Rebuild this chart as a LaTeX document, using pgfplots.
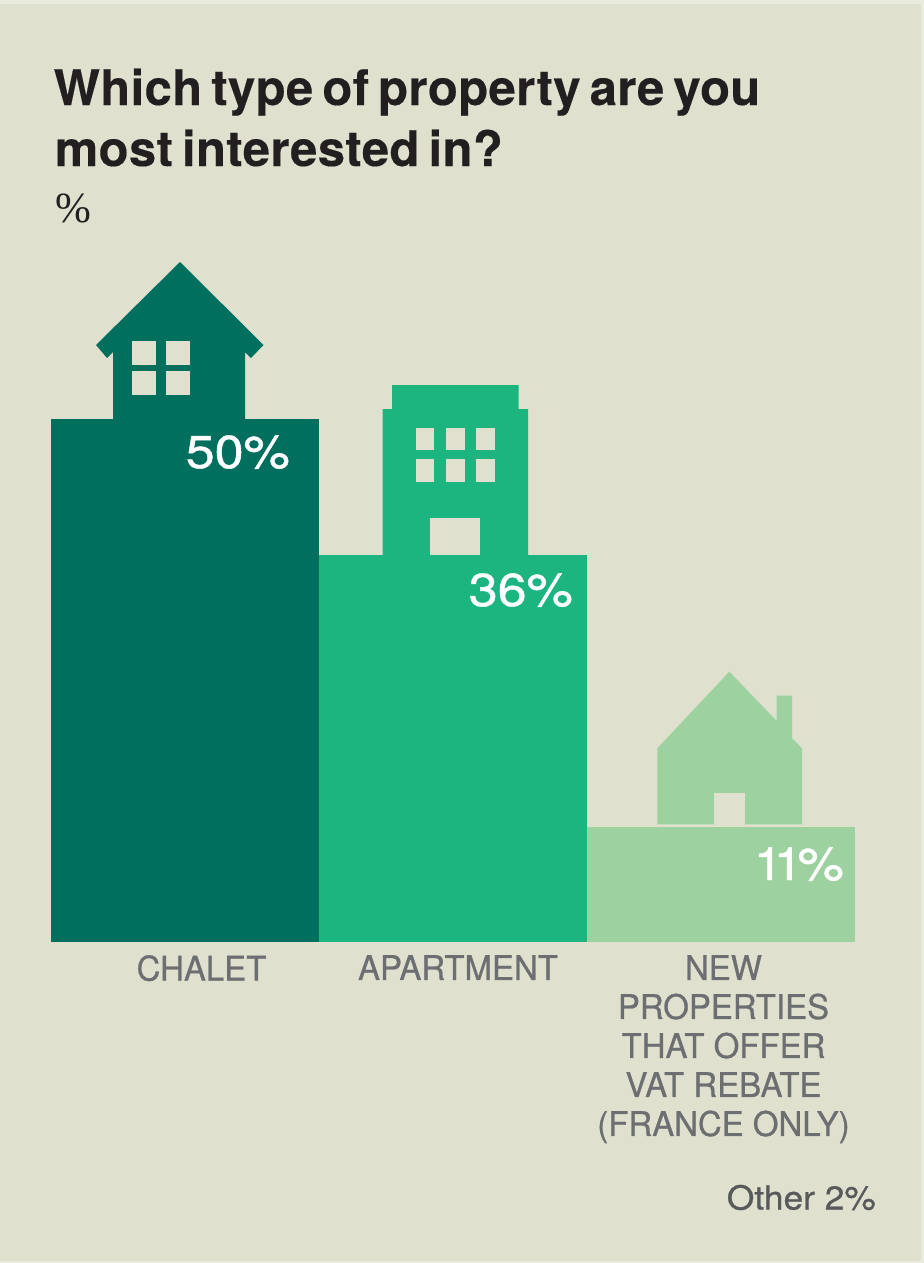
\documentclass[border=0pt]{standalone}
\usepackage{pgfplots}
\pgfplotsset{compat=1.18}
\usepackage{fontspec}
\setmainfont{TeX Gyre Heros}
\newfontfamily\seriffont{Liberation Serif}
\newfontfamily\valfont[FakeBold=1.0,FakeStretch=1.13]{TeX Gyre Heros}
\newfontfamily\labfont[FakeBold=0.7,FakeStretch=0.97]{TeX Gyre Heros}
\newfontfamily\othfont[FakeBold=0.7,FakeStretch=1.07]{TeX Gyre Heros}
\newfontfamily\titfont[LetterSpace=0.8,WordSpace=0.65,FakeBold=0.3]{TeX Gyre Heros Bold}
\definecolor{bgc}{HTML}{DFE1CE}
\definecolor{edgec}{HTML}{E9EBDC}
\definecolor{dark}{HTML}{016F5D}
\definecolor{mid}{HTML}{1CB57F}
\definecolor{light}{HTML}{9DD1A0}
\definecolor{titlec}{HTML}{231F20}
\definecolor{labelc}{HTML}{6D6E71}
\definecolor{otherc}{HTML}{58595B}
\newcommand{\fs}[2]{\fontsize{#1}{#2}\selectfont}
\begin{document}
\begin{tikzpicture}[x=1bp,y=1bp]
\fill[edgec] (0,0) rectangle (924,1263);
\fill[bgc] (0,2) rectangle (921,1259);
\begin{axis}[
  name=bars, at={(51bp,321bp)}, anchor=south west,
  scale only axis, width=804bp, height=941.4bp,
  xmin=-0.5, xmax=2.5, ymin=0, ymax=90,
  ybar, bar width=268bp, bar shift=0pt,
  axis line style={draw=none}, major tick length=0pt,
  ytick=\empty,
  xtick={0.0616,1.0187,2.0093},
  xticklabels={CHALET,APARTMENT,{NEW\\PROPERTIES\\THAT OFFER\\VAT REBATE\\(FRANCE ONLY)}},
  xticklabel style={align=center, anchor=north, inner sep=0pt, yshift=-13bp,
     text=labelc, font=\labfont\fs{34bp}{39bp}},
  clip=false,
]
\addplot[draw=none, fill=dark] coordinates {(0,50)};
\addplot[draw=none, fill=mid] coordinates {(1,37)};
\addplot[draw=none, fill=light] coordinates {(2,11)};
\end{axis}
\begin{axis}[
  at={(0bp,0bp)}, anchor=south west,
  scale only axis, width=924bp, height=1263bp,
  xmin=0, xmax=924, ymin=0, ymax=1263, y dir=reverse,
  hide axis, clip=false,
]
% chalet
\addplot[draw=none, fill=dark] coordinates {(180,262) (263.5,345) (251,358) (245,352) (245,420) (113,420) (113,352) (107,358) (96,345)} --cycle;
\addplot[draw=none, fill=bgc] coordinates {(132,341) (156,341) (156,365) (132,365)} --cycle;
\addplot[draw=none, fill=bgc] coordinates {(166,341) (190,341) (190,365) (166,365)} --cycle;
\addplot[draw=none, fill=bgc] coordinates {(132,371) (156,371) (156,395) (132,395)} --cycle;
\addplot[draw=none, fill=bgc] coordinates {(166,371) (190,371) (190,395) (166,395)} --cycle;
% apartment
\addplot[draw=none, fill=mid] coordinates {(392,385) (518.5,385) (518.5,409) (528,409) (528,556) (382.5,556) (382.5,409) (392,409)} --cycle;
\addplot[draw=none, fill=bgc] coordinates {(415.5,428) (434,428) (434,450) (415.5,450)} --cycle;
\addplot[draw=none, fill=bgc] coordinates {(446,428) (465,428) (465,450) (446,450)} --cycle;
\addplot[draw=none, fill=bgc] coordinates {(476,428) (495,428) (495,450) (476,450)} --cycle;
\addplot[draw=none, fill=bgc] coordinates {(415.5,459) (434,459) (434,482) (415.5,482)} --cycle;
\addplot[draw=none, fill=bgc] coordinates {(446,459) (465,459) (465,482) (446,482)} --cycle;
\addplot[draw=none, fill=bgc] coordinates {(476,459) (495,459) (495,482) (476,482)} --cycle;
\addplot[draw=none, fill=bgc] coordinates {(430,518) (480,518) (480,555) (430,555)} --cycle;
% new house
\addplot[draw=none, fill=light] coordinates {(729.3,671.7) (776.7,721) (776.7,695.7) (792,695.7) (792,738) (802,748.3) (802,824.3) (657.3,824.3) (657.3,748.3)} --cycle;
\addplot[draw=none, fill=bgc] coordinates {(713.7,793) (745.3,793) (745.3,827) (713.7,827)} --cycle;
% text
\node[anchor=base west, inner sep=0pt, text=titlec] at (axis cs:53.5,105) {\titfont\fs{49bp}{60bp}Which type of property are you};
\node[anchor=base west, inner sep=0pt, text=titlec] at (axis cs:54.5,166) {\titfont\fs{49bp}{60bp}most interested in?};
\node[anchor=base west, inner sep=0pt, text=titlec] at (axis cs:55.5,222.5) {\seriffont\fs{43bp}{48bp}\%};
\node[anchor=base east, inner sep=0pt, text=white] at (axis cs:290,468) {\valfont\fs{46bp}{50bp}50\%};
\node[anchor=base east, inner sep=0pt, text=white] at (axis cs:573,606) {\valfont\fs{46bp}{50bp}36\%};
\node[anchor=base east, inner sep=0pt, text=white] at (axis cs:844,880) {\valfont\fs{46bp}{50bp}1\kern-9bp 1\kern-5bp\%};
\node[anchor=base east, inner sep=0pt, text=otherc] at (axis cs:876,1209.5) {\othfont\fs{33bp}{40bp}Other 2\%};
\end{axis}
\end{tikzpicture}
\end{document}
